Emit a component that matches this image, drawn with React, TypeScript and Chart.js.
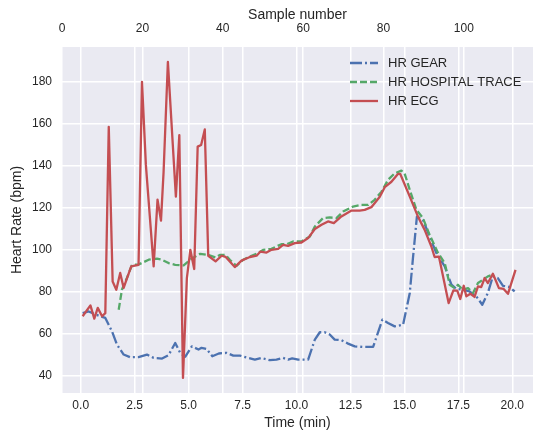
import React, { useEffect, useRef } from "react";
import { Chart, registerables } from "chart.js";

Chart.register(...registerables);

// ---------- data ----------
const timeTicks = [0, 2.5, 5, 7.5, 10, 12.5, 15, 17.5, 20];
const sampleTicks = [0, 20, 40, 60, 80, 100];
const hrTicks = [40, 60, 80, 100, 120, 140, 160, 180];

const seriesNames = ["HR GEAR", "HR HOSPITAL TRACE", "HR ECG"];

const gearTime = [0.09, 0.37, 0.65, 0.91, 1.14, 1.45, 1.68, 1.99, 2.3, 2.68, 3.07, 3.38, 3.77, 4.07, 4.38, 4.61, 4.84, 5.15, 5.46, 5.6, 5.83, 6.1, 6.4, 6.76, 7.07, 7.38, 7.76, 8.07, 8.38, 8.76, 9.07, 9.38, 9.61, 9.8, 10.08, 10.54, 10.85, 11.08, 11.31, 11.54, 11.77, 12.08, 12.39, 12.7, 13.08, 13.55, 13.98, 14.24, 14.55, 14.94, 15.25, 15.39, 15.58, 15.86, 16.17, 16.48, 16.87, 17.18, 17.41, 17.71, 18.02, 18.33, 18.61, 18.87, 19.1, 19.33, 19.57, 19.88, 20.11];
const gearHr = [70, 70.8, 69.5, 68.5, 67.7, 61.3, 55, 50.3, 49, 49.1, 50.3, 48.7, 48.4, 50, 55.8, 51.1, 49.2, 54.2, 52.7, 53.5, 53, 49.5, 50.8, 51.1, 49.8, 49.8, 48.7, 47.9, 48.7, 47.6, 47.9, 48.7, 47.9, 48.5, 47.9, 47.9, 57.4, 60.9, 60.9, 59.8, 57.4, 57.1, 55.5, 54.2, 53.9, 53.9, 66.9, 65.3, 63.7, 64.5, 79.6, 95.4, 115.9, 114.4, 106.4, 98.6, 92.2, 83.5, 81.5, 81.1, 80.3, 78, 74, 79.6, 87.5, 86.7, 83, 82.4, 80.3];

const hospitalTime = [1.76, 1.91, 2.14, 2.38, 2.68, 3.15, 3.53, 3.76, 4.07, 4.38, 4.77, 5.07, 5.31, 5.54, 5.91, 6.25, 6.45, 6.71, 6.91, 7.22, 7.53, 7.92, 8.22, 8.45, 8.84, 9.3, 9.55, 9.84, 10.23, 10.62, 10.85, 11.23, 11.54, 11.85, 12.16, 12.62, 13.01, 13.32, 13.62, 13.94, 14.24, 14.55, 14.86, 15.01, 15.25, 15.56, 15.86, 16.17, 16.56, 16.87, 17.1, 17.33, 17.48, 17.71, 17.95, 18.18, 18.41, 18.64, 18.87, 19.1];
const hospitalHr = [71.6, 81.1, 86.7, 93, 93.1, 95.4, 95.9, 95.4, 93.8, 93, 92.7, 95.4, 96.9, 98.2, 97.7, 96.5, 97.7, 97.7, 95.4, 92.5, 95.4, 97.3, 98.6, 100.1, 100.6, 102.8, 102.8, 104.1, 104.1, 106.4, 111.2, 115.2, 115.5, 115.2, 118.3, 120.7, 121.5, 121.5, 123.9, 127.8, 133.4, 136.5, 137.8, 136.5, 128.6, 119.1, 115.2, 107.2, 98.6, 93.8, 83.5, 81.9, 83.5, 81.1, 81.9, 79.6, 84.3, 85.9, 87.5, 88.3];

const ecgTime = [0.09, 0.45, 0.63, 0.79, 0.99, 1.14, 1.3, 1.48, 1.65, 1.83, 1.99, 2.34, 2.68, 2.84, 3.02, 3.38, 3.56, 3.72, 3.84, 4.04, 4.41, 4.57, 4.74, 4.92, 5.08, 5.26, 5.42, 5.58, 5.75, 5.91, 6.25, 6.53, 6.71, 7.14, 7.45, 7.84, 8.15, 8.33, 8.61, 8.84, 9.15, 9.38, 9.61, 9.92, 10.23, 10.54, 10.85, 11.16, 11.46, 11.73, 12.08, 12.55, 12.93, 13.16, 13.47, 13.86, 14.09, 14.4, 14.7, 14.81, 15.25, 15.63, 15.94, 16.25, 16.4, 16.6, 17.05, 17.27, 17.45, 17.59, 17.75, 17.87, 18.06, 18.25, 18.41, 18.56, 18.72, 18.87, 19.1, 19.23, 19.38, 19.6, 19.8, 20.15];
const ecgHr = [68.5, 73.7, 67.4, 72.5, 68.5, 70, 158.6, 85, 81.1, 89.1, 82, 92.2, 93, 180, 140.5, 92.2, 124, 114, 137, 189.5, 125.4, 154.7, 39.2, 86.7, 100.1, 91, 149.2, 150, 157.4, 97.3, 94.6, 97.3, 96.8, 91.9, 95, 96.7, 97.3, 99.3, 98.8, 100.1, 100.6, 102.5, 102, 103.3, 103.6, 105.7, 110, 112, 113.6, 112.8, 116, 118.8, 118.8, 119.1, 120.4, 125.4, 129.9, 132.5, 136.2, 136.2, 125.4, 115.9, 109.6, 101.7, 96.7, 96.9, 74.8, 80.8, 80.7, 76.7, 83, 78, 79.2, 77.7, 82.7, 82.4, 86.7, 84.3, 88.7, 85.6, 81.9, 81.5, 79.2, 90.6];

// ---------- style ----------
const FONT = "'Liberation Sans', Arial, Helvetica, sans-serif";
const TEXT = "#262626";
const BG = "#EAEAF2";
const COLORS = ["#4C72B0", "#55A868", "#C44E52"];
const DASHES: number[][] = [[12, 3, 2, 3], [7, 3], []];

const toPoints = (xs: number[], ys: number[]) => xs.map((x, i) => ({ x, y: ys[i] }));

const bgPlugin = {
  id: "plotBg",
  beforeDraw(chart: any) {
    const { ctx, chartArea, width, height } = chart;
    ctx.save();
    ctx.fillStyle = "#ffffff";
    ctx.fillRect(0, 0, width, height);
    ctx.fillStyle = BG;
    ctx.fillRect(chartArea.left, chartArea.top, chartArea.right - chartArea.left, chartArea.bottom - chartArea.top);
    ctx.restore();
  },
};

const legendPlugin = {
  id: "mplLegend",
  afterDraw(chart: any) {
    const { ctx, chartArea } = chart;
    ctx.save();
    ctx.font = `13px ${FONT}`;
    ctx.textBaseline = "middle";
    ctx.textAlign = "left";
    chart.data.datasets.forEach((ds: any, i: number) => {
      const y = chartArea.top + 16 + i * 19;
      const x0 = chartArea.right - 183;
      ctx.strokeStyle = ds.borderColor;
      ctx.lineWidth = ds.borderWidth;
      ctx.setLineDash(ds.borderDash || []);
      ctx.beginPath();
      ctx.moveTo(x0, y);
      ctx.lineTo(x0 + 28, y);
      ctx.stroke();
      ctx.setLineDash([]);
      ctx.fillStyle = TEXT;
      ctx.fillText(ds.label, x0 + 38, y + 0.5);
    });
    ctx.restore();
  },
};

export default function App() {
  const ref = useRef<HTMLCanvasElement | null>(null);

  useEffect(() => {
    if (!ref.current) return;
    const series = [
      toPoints(gearTime, gearHr),
      toPoints(hospitalTime, hospitalHr),
      toPoints(ecgTime, ecgHr),
    ];
    const tickFont = { family: FONT, size: 12 };
    const titleFont = { family: FONT, size: 14 };
    const grid = { color: "#ffffff", lineWidth: 1.5, drawTicks: false };
    const chart = new Chart(ref.current, {
      type: "line",
      data: {
        datasets: series.map((pts, i) => ({
          label: seriesNames[i],
          data: pts,
          borderColor: COLORS[i],
          backgroundColor: COLORS[i],
          borderWidth: 2.3,
          borderDash: DASHES[i],
          borderJoinStyle: "round" as const,
          pointRadius: 0,
          tension: 0,
          fill: false,
          xAxisID: "x",
          yAxisID: "y",
          order: 2 - i,
        })),
      },
      options: {
        responsive: false,
        animation: false,
        devicePixelRatio: 1,
        layout: { padding: { left: 0, right: 2, top: 0, bottom: 0 } },
        plugins: { legend: { display: false }, tooltip: { enabled: false } },
        scales: {
          x: {
            type: "linear",
            position: "bottom",
            min: -0.867,
            max: 20.96,
            afterBuildTicks: (s: any) => { s.ticks = timeTicks.map((v) => ({ value: v })); },
            afterFit: (s: any) => { s.height = 44; },
            ticks: { font: tickFont, color: TEXT, padding: 5, maxRotation: 0, autoSkip: false, callback: (v: any) => Number(v).toFixed(1) },
            grid,
            border: { display: false },
            title: { display: true, text: "Time (min)", font: titleFont, color: TEXT, padding: { top: 0, bottom: 5 } },
          },
          x2: {
            type: "linear",
            position: "top",
            min: 0,
            max: 117.2,
            afterBuildTicks: (s: any) => { s.ticks = sampleTicks.map((v) => ({ value: v })); },
            afterFit: (s: any) => { s.height = 47; },
            ticks: { font: tickFont, color: TEXT, padding: 11, maxRotation: 0, autoSkip: false, callback: (v: any) => String(v) },
            grid,
            border: { display: false },
            title: { display: true, text: "Sample number", font: titleFont, color: TEXT, padding: { top: 7, bottom: 0 } },
          },
          y: {
            type: "linear",
            position: "left",
            min: 32,
            max: 196.6,
            afterBuildTicks: (s: any) => { s.ticks = hrTicks.map((v) => ({ value: v })); },
            afterFit: (s: any) => { s.width = 62; },
            ticks: { font: tickFont, color: TEXT, padding: 10, autoSkip: false, callback: (v: any) => String(v) },
            grid,
            border: { display: false },
            title: { display: true, text: "Heart Rate (bpm)", font: titleFont, color: TEXT, padding: { top: 9, bottom: 0 } },
          },
        },
      } as any,
      plugins: [bgPlugin, legendPlugin],
    });
    return () => chart.destroy();
  }, []);

  return (
    <div style={{ position: "fixed", left: 0, top: 0, width: 535, height: 437, background: "#fff" }}>
      <canvas ref={ref} width={535} height={437} style={{ display: "block" }} />
    </div>
  );
}
